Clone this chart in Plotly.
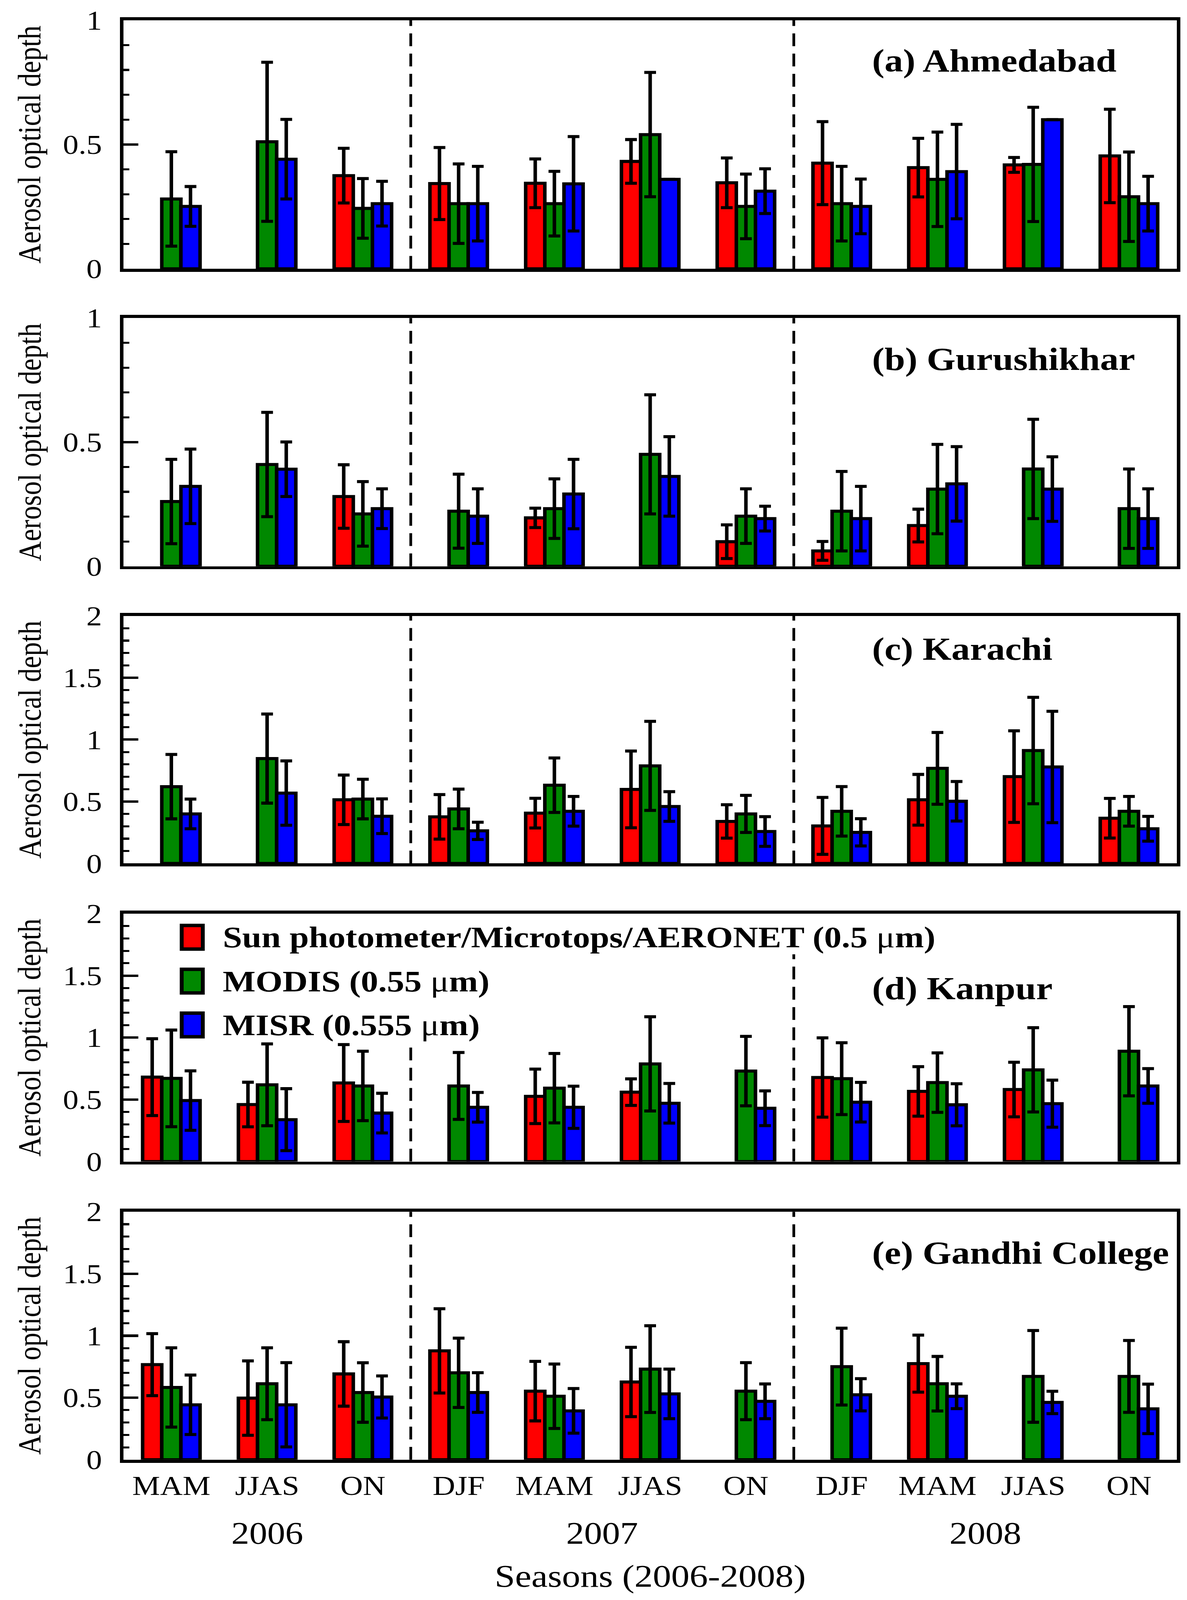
import plotly.graph_objects as go
from plotly.subplots import make_subplots

# season groups along the x axis (2006-2008)
seasons = ["MAM", "JJAS", "ON", "DJF", "MAM", "JJAS", "ON", "DJF", "MAM", "JJAS", "ON"]
years = ["2006", "2007", "2008"]
year_centres = [1, 4.5, 8.5]
year_breaks = [2.5, 6.5]

site_labels = ["(a) Ahmedabad", "(b) Gurushikhar", "(c) Karachi", "(d) Kanpur", "(e) Gandhi College"]
y_tops = [1, 1, 2, 2, 2]

series_names = ["Sun photometer/Microtops/AERONET (0.5 μm)", "MODIS (0.55 μm)", "MISR (0.555 μm)"]
series_colors = ["#ff0000", "#008800", "#0000ff"]

# (a) Ahmedabad
ahm_sun = [None, None, 0.375, 0.343, 0.344, 0.432, 0.346, 0.425, 0.407, 0.418, 0.454]
ahm_sun_sd = [None, None, 0.11, 0.145, 0.098, 0.088, 0.10, 0.167, 0.118, 0.03, 0.188]
ahm_modis = [0.281, 0.511, 0.243, 0.262, 0.262, 0.54, 0.251, 0.262, 0.36, 0.42, 0.29]
ahm_modis_sd = [0.19, 0.32, 0.12, 0.16, 0.13, 0.25, 0.13, 0.15, 0.19, 0.23, 0.18]
ahm_misr = [0.251, 0.441, 0.262, 0.262, 0.342, 0.36, 0.3125, 0.251, 0.391, 0.60, 0.262]
ahm_misr_sd = [0.08, 0.16, 0.09, 0.15, 0.19, None, 0.09, 0.11, 0.19, None, 0.11]

# (b) Gurushikhar
gur_sun = [None, None, 0.281, None, 0.195, None, 0.099, 0.062, 0.164, None, None]
gur_sun_sd = [None, None, 0.128, None, 0.039, None, 0.068, 0.038, 0.066, None, None]
gur_modis = [0.261, 0.41, 0.211, 0.222, 0.232, 0.451, 0.202, 0.222, 0.311, 0.392, 0.232]
gur_modis_sd = [0.17, 0.21, 0.13, 0.149, 0.12, 0.24, 0.11, 0.16, 0.18, 0.20, 0.16]
gur_misr = [0.322, 0.391, 0.232, 0.202, 0.291, 0.362, 0.192, 0.192, 0.332, 0.311, 0.192]
gur_misr_sd = [0.15, 0.11, 0.08, 0.11, 0.14, 0.16, 0.05, 0.13, 0.15, 0.13, 0.12]

# (c) Karachi
kar_sun = [None, None, 0.514, 0.376, 0.406, 0.598, 0.339, 0.303, 0.514, 0.701, 0.365]
kar_sun_sd = [None, None, 0.20, 0.18, 0.12, 0.31, 0.135, 0.23, 0.205, 0.37, 0.16]
kar_modis = [0.62, 0.847, 0.52, 0.44, 0.632, 0.788, 0.40, 0.421, 0.768, 0.912, 0.421]
kar_modis_sd = [0.26, 0.36, 0.16, 0.16, 0.22, 0.36, 0.15, 0.20, 0.29, 0.43, 0.12]
kar_misr = [0.40, 0.568, 0.381, 0.263, 0.421, 0.46, 0.258, 0.251, 0.502, 0.779, 0.28]
kar_misr_sd = [0.12, 0.26, 0.14, 0.07, 0.12, 0.12, 0.12, 0.11, 0.16, 0.45, 0.10]

# (d) Kanpur
kan_sun = [0.681, 0.46, 0.634, None, 0.526, 0.56, None, 0.678, 0.566, 0.581, None]
kan_sun_sd = [0.31, 0.18, 0.31, None, 0.22, 0.107, None, 0.32, 0.20, 0.22, None]
kan_modis = [0.671, 0.619, 0.61, 0.61, 0.592, 0.788, 0.73, 0.669, 0.637, 0.74, 0.89]
kan_modis_sd = [0.39, 0.33, 0.28, 0.27, 0.28, 0.38, 0.28, 0.29, 0.24, 0.34, 0.36]
kan_misr = [0.492, 0.338, 0.391, 0.438, 0.438, 0.47, 0.43, 0.479, 0.458, 0.467, 0.61]
kan_misr_sd = [0.24, 0.25, 0.16, 0.12, 0.17, 0.16, 0.14, 0.16, 0.17, 0.19, 0.14]

# (e) Gandhi College
gan_sun = [0.767, 0.497, 0.692, 0.878, 0.553, 0.627, None, None, 0.775, None, None]
gan_sun_sd = [0.25, 0.30, 0.26, 0.34, 0.24, 0.28, None, None, 0.23, None, None]
gan_modis = [0.583, 0.613, 0.542, 0.701, 0.512, 0.731, 0.553, 0.751, 0.613, 0.672, 0.672]
gan_modis_sd = [0.32, 0.29, 0.24, 0.28, 0.26, 0.35, 0.23, 0.31, 0.22, 0.37, 0.29]
gan_misr = [0.443, 0.443, 0.506, 0.542, 0.394, 0.531, 0.471, 0.524, 0.512, 0.462, 0.41]
gan_misr_sd = [0.24, 0.34, 0.17, 0.16, 0.18, 0.20, 0.14, 0.13, 0.10, 0.09, 0.20]

panels = [
    [(ahm_sun, ahm_sun_sd), (ahm_modis, ahm_modis_sd), (ahm_misr, ahm_misr_sd)],
    [(gur_sun, gur_sun_sd), (gur_modis, gur_modis_sd), (gur_misr, gur_misr_sd)],
    [(kar_sun, kar_sun_sd), (kar_modis, kar_modis_sd), (kar_misr, kar_misr_sd)],
    [(kan_sun, kan_sun_sd), (kan_modis, kan_modis_sd), (kan_misr, kan_misr_sd)],
    [(gan_sun, gan_sun_sd), (gan_modis, gan_modis_sd), (gan_misr, gan_misr_sd)],
]

W, H = 3038, 4744
FONT = "Liberation Serif"
x_dom = [316 / W, 3012 / W]
# panel top / bottom in pixels
panel_px = [(60, 797), (943, 1679), (1826, 2560), (2709, 3444), (3593, 4328)]
label_off = [120, 122, 98, 222, 122]

fig = make_subplots(rows=5, cols=1)
x_idx = list(range(len(seasons)))

for p, series in enumerate(panels):
    for (vals, sd), col in zip(series, series_colors):
        fig.add_trace(go.Bar(
            x=x_idx, y=vals,
            marker=dict(color=col, line=dict(color="black", width=9)),
            error_y=dict(type="data", array=sd, color="black", thickness=9, width=15),
            showlegend=False,
        ), row=p + 1, col=1)

fig.update_layout(
    width=W, height=H,
    barmode="group", bargap=0.4, bargroupgap=0,
    plot_bgcolor="white", paper_bgcolor="white",
    margin=dict(l=0, r=0, t=0, b=0, autoexpand=False),
    font=dict(family=FONT, color="black", size=78),
)

for p in range(5):
    top, bot = panel_px[p]
    n = "" if p == 0 else str(p + 1)
    fig.layout["yaxis" + n].update(
        domain=[1 - bot / H, 1 - top / H],
        range=[0, y_tops[p]], dtick=0.5, tick0=0,
        showgrid=False, zeroline=False,
        showline=True, linecolor="black", linewidth=9, mirror=True,
        ticks="inside", ticklen=38, tickwidth=7, tickcolor="black",
        ticklabelstandoff=30,
        tickfont=dict(size=80),
        minor=dict(ticks="inside", dtick=0.1, tick0=0, ticklen=15, tickwidth=6, tickcolor="black"),
    )
    fig.layout["xaxis" + n].update(
        domain=x_dom, range=[-0.5, len(seasons) - 0.5],
        showgrid=False, zeroline=False,
        showline=True, linecolor="black", linewidth=9, mirror=True,
        ticks="", tickmode="array", tickvals=x_idx, ticktext=seasons,
        showticklabels=(p == 4), tickfont=dict(size=80), ticklabelstandoff=0,
    )

    # year separators
    for k, xb in enumerate(year_breaks):
        if p == 3:
            yref, y1 = "y4", [1.0, 1.7][k]
        else:
            yref, y1 = "y" + n + " domain", 1
        fig.add_shape(type="line", xref="x" + n, yref=yref, x0=xb, x1=xb, y0=0, y1=y1,
                      line=dict(color="black", width=7, dash="38px,22px"))

    fig.add_annotation(text="<b>" + site_labels[p] + "</b>", xref="paper", yref="y" + n + " domain",
                       x=2230 / W, y=1 - label_off[p] / (bot - top), xanchor="left", yanchor="middle",
                       showarrow=False, font=dict(size=95))
    fig.add_annotation(text="Aerosol optical depth", textangle=-90, xref="paper", yref="paper",
                       x=76 / W, y=1 - (top + bot) / 2 / H, xanchor="center", yanchor="middle",
                       showarrow=False, font=dict(size=82))

# legend drawn inside panel (d)
leg_rows = [2779, 2909, 3039]
for name, col, yc in zip(series_names, series_colors, leg_rows):
    fig.add_shape(type="rect", xref="paper", yref="paper",
                  x0=465 / W, x1=519 / W, y0=1 - (yc + 35) / H, y1=1 - (yc - 35) / H,
                  fillcolor=col, line=dict(color="black", width=10))
    txt = "<b>" + name.replace("μ", "</b>μ<b>") + "</b>"
    fig.add_annotation(text=txt, xref="paper", yref="paper", x=568 / W, y=1 - yc / H,
                       xanchor="left", yanchor="middle", showarrow=False,
                       font=dict(size=89), bgcolor="white")

for yr, xc in zip(years, year_centres):
    fig.add_annotation(text=yr, xref="x5", yref="paper", x=xc, y=1 - 4546 / H,
                       xanchor="center", yanchor="middle", showarrow=False, font=dict(size=92))
fig.add_annotation(text="Seasons (2006-2008)", xref="x5", yref="paper", x=5, y=1 - 4673 / H,
                   xanchor="center", yanchor="middle", showarrow=False, font=dict(size=94))

# the browser shows less than 4744 px of height, so squeeze the page to fit it
fit = ("var gd = document.getElementById('{plot_id}');"
       "document.body.style.margin = '0';"
       "document.body.style.overflow = 'hidden';"
       "var k = Math.min(1, window.innerHeight / %d);"
       "gd.style.transformOrigin = '0 0';"
       "gd.style.transform = 'scale(1,' + k + ')';" % H)

fig.write_html("out.html", post_script=fit, config={"displayModeBar": False})
